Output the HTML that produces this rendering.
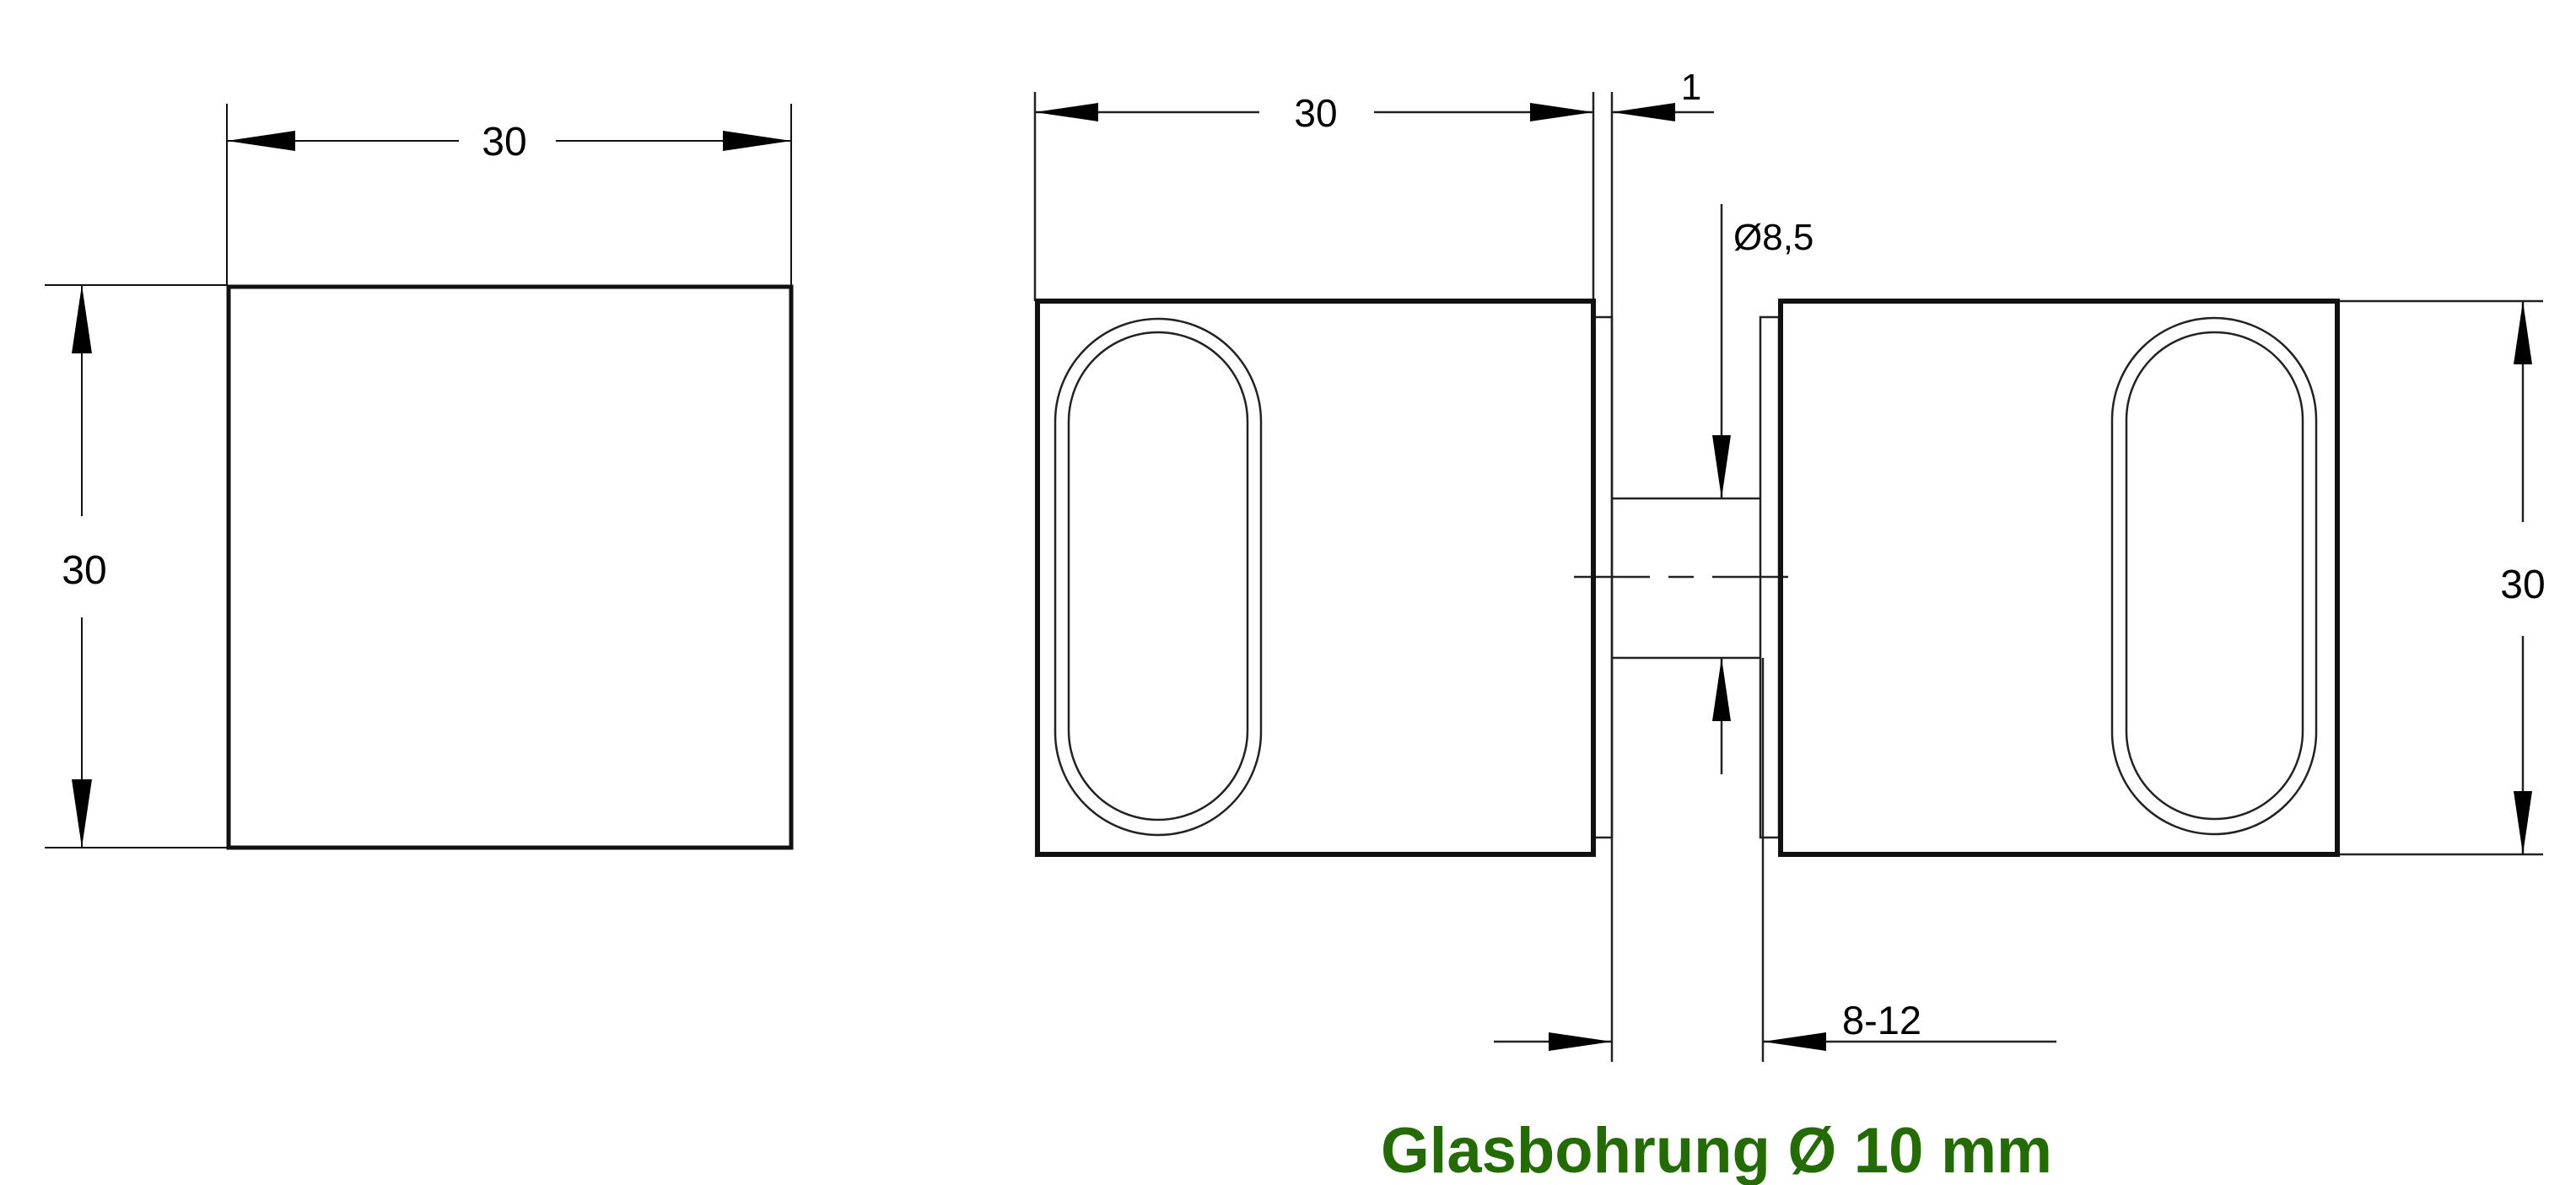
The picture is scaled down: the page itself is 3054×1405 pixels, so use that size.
<!DOCTYPE html>
<html><head><meta charset="utf-8"><style>
html,body{margin:0;padding:0;background:#fff;}
svg{display:block;}
text{font-family:"Liberation Sans",Arial,sans-serif;}
</style></head><body>
<svg width="3054" height="1405" viewBox="0 0 3054 1405" xmlns="http://www.w3.org/2000/svg">
<g stroke="#111" stroke-width="2" fill="none">
  <!-- left view -->
  <rect x="271" y="340" width="667" height="665" stroke-width="5"/>
  <line x1="269" y1="123" x2="269" y2="338"/>
  <line x1="938" y1="123" x2="938" y2="338"/>
  <line x1="269" y1="167" x2="544" y2="167"/>
  <line x1="659" y1="167" x2="938" y2="167"/>
  <line x1="53" y1="338" x2="269" y2="338"/>
  <line x1="53" y1="1005" x2="269" y2="1005"/>
  <line x1="97" y1="338" x2="97" y2="612"/>
  <line x1="97" y1="732" x2="97" y2="1005"/>
</g>
<g fill="#000">
  <polygon points="269,167 350,155 350,179"/>
  <polygon points="938,167 857,155 857,179"/>
  <polygon points="97,338 85,419 109,419"/>
  <polygon points="97,1005 85,924 109,924"/>
</g>
<text x="598" y="184" font-size="48" text-anchor="middle">30</text>
<text x="100" y="692" font-size="48" text-anchor="middle">30</text>

<!-- right view -->
<g stroke="#222" stroke-width="2.5" fill="none">
  <line x1="1227" y1="109" x2="1227" y2="357"/>
  <line x1="1889" y1="109" x2="1889" y2="357"/>
  <line x1="1911" y1="109" x2="1911" y2="1259"/>
  <line x1="2090" y1="780" x2="2090" y2="1259"/>
  <line x1="1227" y1="133" x2="1493" y2="133"/>
  <line x1="1629" y1="133" x2="1889" y2="133"/>
  <line x1="1911" y1="133" x2="2032" y2="133"/>
  <!-- flanges -->
  <rect x="1889" y="376" width="22" height="617"/>
  <rect x="2087" y="376" width="22" height="617"/>
  <!-- pin -->
  <line x1="1911" y1="591" x2="2087" y2="591"/>
  <line x1="1911" y1="780" x2="2087" y2="780"/>
  <!-- centerline -->
  <line x1="1866" y1="684" x2="2134" y2="684" stroke-dasharray="90,22,30,22"/>
  <!-- Ø8,5 -->
  <line x1="2041" y1="242" x2="2041" y2="591"/>
  <line x1="2041" y1="780" x2="2041" y2="918"/>
  <!-- ovals -->
  <rect x="1251" y="378" width="244" height="612" rx="122" ry="122"/>
  <rect x="1267" y="394" width="212" height="578" rx="106" ry="106"/>
  <rect x="2504" y="377" width="242" height="612" rx="121" ry="121"/>
  <rect x="2521" y="394" width="209" height="577" rx="104" ry="104"/>
  <!-- right dim -->
  <line x1="2771" y1="357" x2="3015" y2="357"/>
  <line x1="2771" y1="1013" x2="3015" y2="1013"/>
  <line x1="2991" y1="357" x2="2991" y2="619"/>
  <line x1="2991" y1="754" x2="2991" y2="1013"/>
  <!-- bottom dim -->
  <line x1="1771" y1="1235" x2="1911" y2="1235"/>
  <line x1="2090" y1="1235" x2="2438" y2="1235"/>
</g>
<g stroke="#111" stroke-width="6" fill="none">
  <rect x="1230" y="357" width="659" height="656"/>
  <rect x="2111" y="357" width="660" height="656"/>
</g>
<g fill="#000">
  <polygon points="1227,133 1302,122 1302,144"/>
  <polygon points="1889,133 1814,122 1814,144"/>
  <polygon points="1911,133 1986,122 1986,144"/>
  <polygon points="2041,591 2030,516 2052,516"/>
  <polygon points="2041,780 2030,855 2052,855"/>
  <polygon points="2991,357 2980,432 3002,432"/>
  <polygon points="2991,1013 2980,938 3002,938"/>
  <polygon points="1911,1235 1836,1224 1836,1246"/>
  <polygon points="2090,1235 2165,1224 2165,1246"/>
</g>
<text x="1560" y="150" font-size="46" text-anchor="middle">30</text>
<text x="2005" y="118" font-size="44" text-anchor="middle">1</text>
<text x="2055" y="296" font-size="44">Ø8,5</text>
<text x="2991" y="709" font-size="48" text-anchor="middle">30</text>
<text x="2184" y="1226" font-size="47">8-12</text>
<text x="1637" y="1390" font-size="76" font-weight="bold" fill="#246b05" textLength="796" lengthAdjust="spacingAndGlyphs">Glasbohrung Ø 10 mm</text>
</svg>
</body></html>
